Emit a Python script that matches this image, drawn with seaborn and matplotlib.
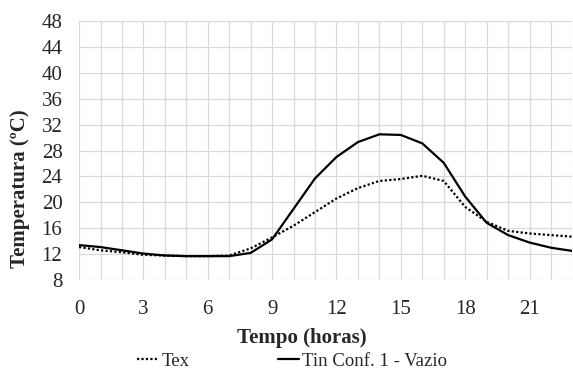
import numpy as np
import pandas as pd
import matplotlib
matplotlib.use('Agg')
import matplotlib.pyplot as plt
import seaborn as sns
from matplotlib.lines import Line2D

horas = list(range(24))
tex = [13.1, 12.6, 12.3, 11.9, 11.8, 11.7, 11.7, 11.8, 12.9, 14.6, 16.4, 18.5,
       20.6, 22.2, 23.3, 23.6, 24.1, 23.3, 19.3, 17.0, 15.6, 15.2, 14.95, 14.7]
tin = [13.4, 13.1, 12.6, 12.1, 11.8, 11.7, 11.7, 11.7, 12.2, 14.3, 19.0, 23.7,
       27.0, 29.3, 30.5, 30.4, 29.1, 26.1, 20.9, 16.85, 14.95, 13.8, 13.0, 12.5]
nomes = ['Tex', 'Tin Conf. 1 - Vazio']

df = pd.DataFrame({'hora': horas * 2,
                   'temp': tex + tin,
                   'serie': [nomes[0]] * 24 + [nomes[1]] * 24})

sns.set_theme(style='white')
plt.rcParams['font.family'] = ['Liberation Serif', 'DejaVu Serif']

fig, ax = plt.subplots(figsize=(5.73, 3.73), dpi=100)
fig.subplots_adjust(left=0.138, right=0.999, top=0.944, bottom=0.249)

sns.lineplot(data=df, x='hora', y='temp', hue='serie', style='serie',
             palette=['black', 'black'], dashes=[(1, 1), ''],
             linewidth=1.6, ax=ax, legend=False)

ax.set_xlim(0, 23)
ax.set_ylim(8, 48)
ax.set_xticks(range(0, 22, 3))
ax.set_xticks(range(0, 24), minor=True)
ax.set_yticks(range(8, 49, 4))
ax.grid(True, which='both', color='#d9d9d9', linewidth=0.9)
ax.set_axisbelow(True)
for s in ax.spines.values():
    s.set_visible(False)
ax.tick_params(axis='both', which='both', length=0, labelsize=15, colors='#262626')
ax.tick_params(axis='x', pad=14)
ax.tick_params(axis='y', pad=12)

# axis titles sit off-centre like the original chart
ax.set_xlabel('Tempo (horas)', fontsize=15, fontweight='bold', va='center')
ax.xaxis.set_label_coords(0.451, -0.224)
ax.set_ylabel('Temperatura (ºC)', fontsize=15, fontweight='bold', va='center')
ax.yaxis.set_label_coords(-0.119, 0.351)

handles = [Line2D([], [], color='black', linestyle=(0, (1, 1)), linewidth=1.6),
           Line2D([], [], color='black', linestyle='-', linewidth=1.6)]
fig.legend(handles, nomes, loc='center', bbox_to_anchor=(0.51, 0.032), ncol=2,
           frameon=False, fontsize=13.5, handlelength=1.15, handletextpad=0.15,
           columnspacing=4.7, borderpad=0)

fig.savefig('out.png', dpi=100)
